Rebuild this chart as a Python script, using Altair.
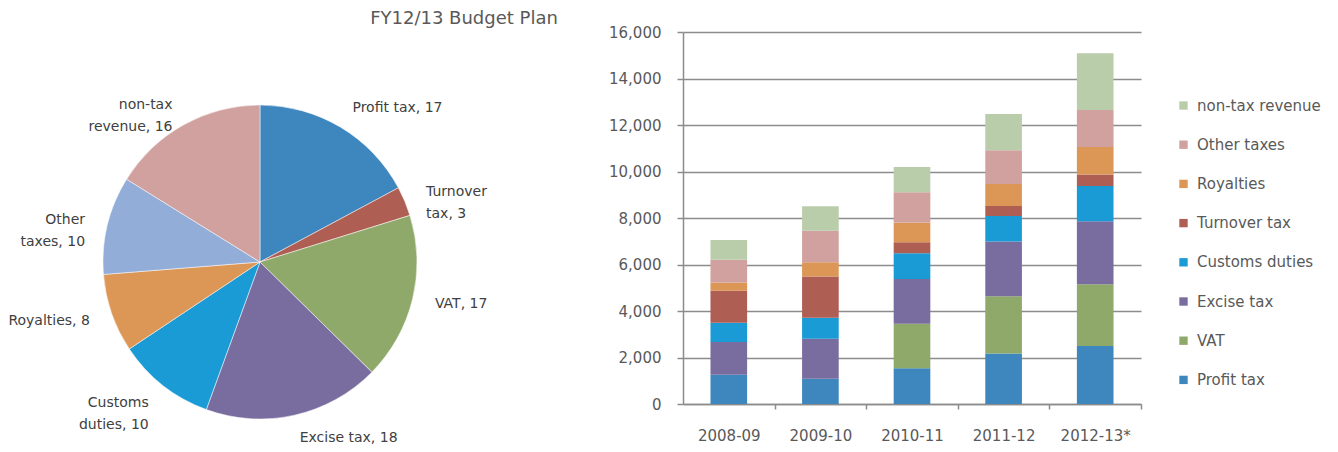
import altair as alt
import pandas as pd

# ---------------- data ----------------
years = ["2008-09", "2009-10", "2010-11", "2011-12", "2012-13*"]
categories = ["Profit tax", "VAT", "Excise tax", "Customs duties",
              "Turnover tax", "Royalties", "Other taxes", "non-tax revenue"]
profit_tax = [1255, 1084, 1540, 2168, 2500]
vat = [0, 0, 1910, 2470, 2650]
excise_tax = [1410, 1725, 1925, 2350, 2710]
customs_duties = [830, 900, 1110, 1100, 1520]
turnover_tax = [1380, 1780, 470, 430, 490]
royalties = [355, 610, 855, 940, 1180]
other_taxes = [970, 1355, 1300, 1455, 1600]
non_tax_revenue = [855, 1055, 1085, 1555, 2440]
bar_colors = ["#3D87BE", "#8FA96A", "#796DA0", "#1A9BD6",
              "#AF5E53", "#DC9656", "#D0A19F", "#BACDAB"]

pie_names = ["Profit tax", "Turnover tax", "VAT", "Excise tax",
             "Customs duties", "Royalties", "Other taxes", "non-tax revenue"]
pie_shares = [17, 3, 17, 18, 10, 8, 10, 16]
pie_labels = ["Profit tax, 17", "Turnover\ntax, 3", "VAT, 17", "Excise tax, 18",
              "Customs\nduties, 10", "Royalties, 8", "Other\ntaxes, 10", "non-tax\nrevenue, 16"]
pie_colors = ["#3D87BE", "#AF5E53", "#8FA96A", "#796DA0",
              "#1A9BD6", "#DC9656", "#92ADD8", "#D0A19F"]
pie_title = "FY12/13 Budget Plan"

# ---------------- tables ----------------
series = [profit_tax, vat, excise_tax, customs_duties,
          turnover_tax, royalties, other_taxes, non_tax_revenue]
rows = []
for ci, (cat, vals) in enumerate(zip(categories, series)):
    for y, v in zip(years, vals):
        rows.append({"year": y, "category": cat, "value": v, "idx": ci})
bar_df = pd.DataFrame(rows)

pie_df = pd.DataFrame({"name": pie_names, "share": pie_shares,
                       "label": pie_labels, "idx": list(range(len(pie_names)))})

FONT = "DejaVu Sans"
TXT = "#595959"

# ---------------- pie ----------------
cx, cy = 251, 254
arcs = alt.Chart(pie_df).mark_arc(outerRadius=157, stroke="white", strokeWidth=0.5).encode(
    theta=alt.Theta("share:Q", stack=True),
    order=alt.Order("idx:Q"),
    x=alt.value(cx), y=alt.value(cy),
    color=alt.Color("name:N", scale=alt.Scale(domain=pie_names, range=pie_colors), legend=None),
)

# mid-angle of every slice (in share units), computed before splitting by side
pie_lab = alt.Chart(pie_df).transform_window(
    cum="sum(share)", sort=[alt.SortField("idx")], frame=[None, 0]
).transform_joinaggregate(tot="sum(share)").transform_calculate(
    midv="datum.cum - datum.share / 2",
    frac="(datum.cum - datum.share / 2) / datum.tot",
).encode(
    theta=alt.Theta("midv:Q", stack=False),
    x=alt.value(cx), y=alt.value(cy),
    text="label:N",
)
lab_kw = dict(radius=180, font=FONT, fontSize=14, color="#404040",
              lineBreak="\n", baseline="middle", lineHeight=22)
labels_right = pie_lab.transform_filter("datum.frac <= 0.5").mark_text(align="left", **lab_kw)
labels_left = pie_lab.transform_filter("datum.frac > 0.5").mark_text(align="right", **lab_kw)

title_txt = alt.Chart(pd.DataFrame({"t": [pie_title]})).mark_text(
    font=FONT, fontSize=18, color=TXT, baseline="middle", align="center"
).encode(text="t:N", x=alt.value(455), y=alt.value(11))

pie = alt.layer(arcs, labels_right, labels_left, title_txt).properties(width=674, height=396)

# ---------------- bars ----------------
bars = alt.Chart(bar_df).mark_bar().encode(
    x=alt.X("year:N", sort=years, title=None,
            scale=alt.Scale(paddingInner=0.6, paddingOuter=0.3),
            axis=alt.Axis(labelAngle=0, labelFont=FONT, labelFontSize=15, labelColor=TXT,
                          domainColor="#8C8C8C", domainWidth=1.5, tickColor="#8C8C8C",
                          tickWidth=1.5, tickSize=5, tickOffset=45.8, labelOffset=-45.8,
                          labelPadding=19)),
    y=alt.Y("value:Q", stack="zero", title=None,
            scale=alt.Scale(domain=[0, 16000], range=[396, 24], nice=False),
            axis=alt.Axis(values=list(range(0, 16001, 2000)), format=",.0f",
                          labelFont=FONT, labelFontSize=15, labelColor=TXT,
                          domainColor="#8C8C8C", domainWidth=1.5, tickColor="#8C8C8C",
                          tickWidth=1.5, tickSize=6, labelPadding=16,
                          grid=True, gridColor="#8C8C8C", gridWidth=1.5)),
    color=alt.Color("category:N",
                    sort=categories[::-1],
                    scale=alt.Scale(domain=categories[::-1], range=bar_colors[::-1]),
                    legend=alt.Legend(title=None, orient="none", legendX=493, legendY=90,
                                      symbolType="square", symbolSize=70, symbolStrokeWidth=0,
                                      labelFont=FONT, labelFontSize=15, labelColor=TXT,
                                      rowPadding=23.2, labelOffset=6)),
    order=alt.Order("idx:Q"),
).properties(width=458, height=396)

chart = alt.hconcat(pie, bars, spacing=0, bounds="flush").resolve_scale(
    color="independent"
).configure_view(stroke=None).properties(padding=0)

chart.save("out.html", embed_options={"renderer": "svg", "actions": False})
